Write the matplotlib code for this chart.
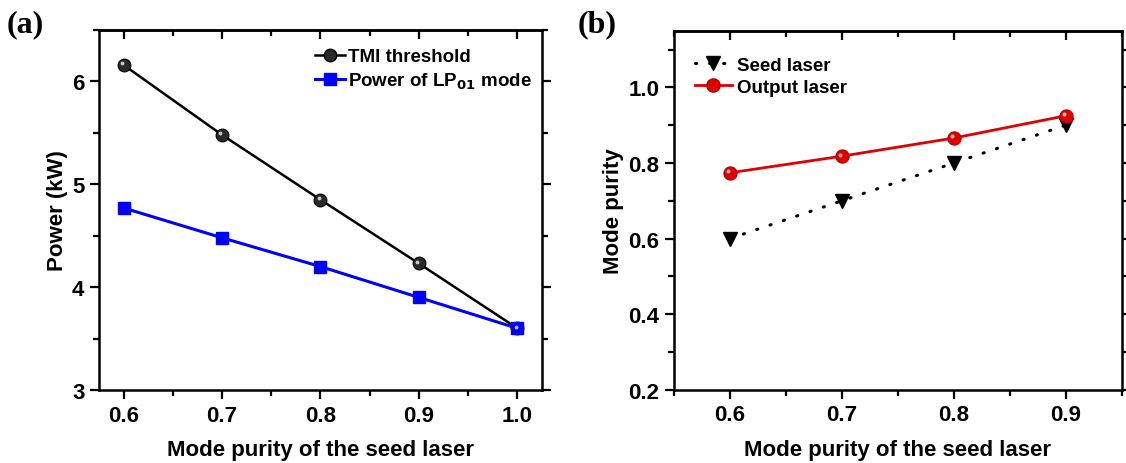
import numpy as np
import matplotlib
matplotlib.use('Agg')
from matplotlib import pyplot as plt
from matplotlib import transforms
from matplotlib.ticker import MultipleLocator

plt.rcParams['font.family'] = ['Liberation Sans', 'DejaVu Sans']
plt.rcParams['font.weight'] = 'bold'

# (a) power vs. seed mode purity
seed_purity_a = [0.6, 0.7, 0.8, 0.9, 1.0]
tmi_threshold = [6.16, 5.48, 4.85, 4.23, 3.6]
lp01_power = [4.77, 4.48, 4.20, 3.90, 3.6]

# (b) mode purity vs. seed mode purity
seed_purity_b = [0.6, 0.7, 0.8, 0.9]
seed_laser = [0.6, 0.7, 0.8, 0.9]
output_laser = [0.774, 0.818, 0.866, 0.925]


def style_axis(ax, xmaj, xmin):
    for sp in ax.spines.values():
        sp.set_linewidth(1.8)
    ax.tick_params(which='both', top=False, right=True, direction='out',
                   width=1.6, labelsize=16, pad=4)
    ax.tick_params(which='major', length=6.5)
    ax.tick_params(which='minor', length=4)
    # top axis: ticks pointing inward, no labels
    top = ax.secondary_xaxis('top')
    top.xaxis.set_major_locator(MultipleLocator(xmaj))
    top.xaxis.set_minor_locator(MultipleLocator(xmin))
    top.tick_params(which='both', direction='in', width=1.6, labeltop=False)
    top.tick_params(which='major', length=6.5)
    top.tick_params(which='minor', length=4)
    top.spines['top'].set_linewidth(1.8)


def ball(ax, fig, x, y, color, edge, size):
    ax.plot(x, y, 'o', color=color, markeredgecolor=edge, markeredgewidth=0.8,
            markersize=size, zorder=4)
    hl = transforms.offset_copy(ax.transData, fig=fig, x=-1.6, y=1.6, units='dots')
    ax.plot(x, y, 'o', color='white', alpha=0.75, markeredgewidth=0,
            markersize=size * 0.3, transform=hl, zorder=5)


fig = plt.figure(figsize=(11.26, 4.64), dpi=100)
ax1 = fig.add_axes([0.0879, 0.1573, 0.3934, 0.7759])
ax2 = fig.add_axes([0.5986, 0.158, 0.3978, 0.7737])

# panel (a)
ax1.plot(seed_purity_a, tmi_threshold, '-', color='black', lw=1.8, zorder=3)
ball(ax1, fig, seed_purity_a, tmi_threshold, '#2a2a2a', 'black', 9.2)
ax1.plot(seed_purity_a, lp01_power, '-s', color='#0000ff', lw=2.2, markersize=8.6, zorder=4)
ax1.set_xlim(0.575, 1.025)
ax1.set_ylim(3, 6.5)
ax1.xaxis.set_minor_locator(MultipleLocator(0.05))
ax1.yaxis.set_major_locator(MultipleLocator(1))
ax1.yaxis.set_minor_locator(MultipleLocator(0.5))
ax1.set_xticks(seed_purity_a, ['0.6', '0.7', '0.8', '0.9', '1.0'])
ax1.set_xlabel('Mode purity of the seed laser', fontsize=16, fontweight='bold', labelpad=10)
ax1.set_ylabel('Power (kW)', fontsize=16, fontweight='bold', labelpad=3)
style_axis(ax1, 0.1, 0.05)

h1, = ax1.plot([], [], '-o', color='black', markerfacecolor='#2a2a2a', markersize=9, lw=1.8)
h2, = ax1.plot([], [], '-s', color='#0000ff', markersize=8, lw=2.2)
ax1.legend([h1, h2], ['TMI threshold', 'Power of LP$_{\\mathbf{01}}$ mode'],
           loc='upper right', frameon=False, fontsize=13.5, handlelength=1.6,
           handletextpad=0.2, borderaxespad=0.0, labelspacing=0.3,
           bbox_to_anchor=(0.995, 0.97))

# panel (b)
ax2.plot(seed_purity_b, seed_laser, color='black', lw=2.2,
         linestyle=(0, (0.4, 4.2)), dash_capstyle='round', zorder=3)
ax2.plot(seed_purity_b, seed_laser, 'v', color='black', markersize=10, zorder=4)
ax2.plot(seed_purity_b, output_laser, '-', color='#e00000', lw=2.0, zorder=3)
ball(ax2, fig, seed_purity_b, output_laser, '#e00000', '#b00000', 9.5)
ax2.set_xlim(0.55, 0.95)
ax2.set_ylim(0.2, 1.15)
ax2.xaxis.set_minor_locator(MultipleLocator(0.05))
ax2.yaxis.set_minor_locator(MultipleLocator(0.1))
ax2.set_xticks(seed_purity_b, ['0.6', '0.7', '0.8', '0.9'])
ax2.set_yticks([0.2, 0.4, 0.6, 0.8, 1.0], ['0.2', '0.4', '0.6', '0.8', '1.0'])
ax2.set_xlabel('Mode purity of the seed laser', fontsize=16, fontweight='bold', labelpad=10)
ax2.set_ylabel('Mode purity', fontsize=16, fontweight='bold', labelpad=3)
style_axis(ax2, 0.1, 0.05)

h3, = ax2.plot([], [], 'v', color='black', markersize=10, lw=2.2,
               linestyle=(0, (0.4, 4.2)), dash_capstyle='round')
h4, = ax2.plot([], [], '-o', color='#e00000', markeredgecolor='#b00000', markersize=9.5, lw=2.0)
ax2.legend([h3, h4], ['Seed laser', 'Output laser'], loc='upper left', frameon=False,
           fontsize=13.5, handlelength=2.0, handletextpad=0.25, labelspacing=0.25,
           borderaxespad=0.0, bbox_to_anchor=(0.029, 0.948))

fig.text(0.006, 0.93, '(a)', family=['Liberation Serif'], fontweight='bold', fontsize=23)
fig.text(0.513, 0.93, '(b)', family=['Liberation Serif'], fontweight='bold', fontsize=23)

fig.savefig('out.png', dpi=100)
